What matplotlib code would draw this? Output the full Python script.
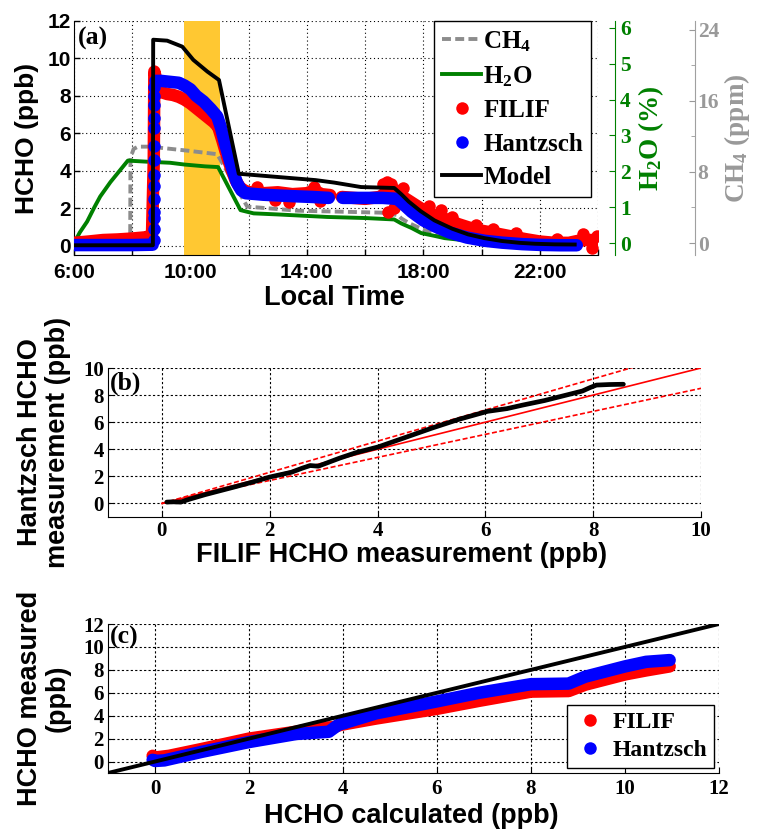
import numpy as np
import matplotlib
matplotlib.use('Agg')
import matplotlib.pyplot as plt
from matplotlib.lines import Line2D
from matplotlib.ticker import MultipleLocator

plt.rcParams['mathtext.fontset'] = 'custom'
plt.rcParams['mathtext.rm'] = 'Liberation Serif:bold'
plt.rcParams['mathtext.it'] = 'Liberation Serif:bold'
plt.rcParams['mathtext.bf'] = 'Liberation Serif:bold'
plt.rcParams['mathtext.default'] = 'rm'

SANS = 'Liberation Sans'
SERIF = 'Liberation Serif'

# ---------------- Panel (a) data (local time in hours) ----------------
shade_start, shade_end = 9.77, 11.0

filif_t = [6.0, 6.5, 7.0, 7.5, 8.0, 8.5, 8.68, 8.74, 8.76, 8.85, 9.0, 9.2, 9.4, 9.6, 9.8,
           10.0, 10.2, 10.4, 10.6, 10.8, 10.95, 11.1, 11.25, 11.4, 11.55, 11.7, 11.85,
           12.0, 12.5, 13.0, 13.5, 14.0, 14.25, 14.5, 14.8, np.nan,
           15.2, 15.6, 16.0, 16.5, 16.8, 17.0, 17.2, 17.5, 17.8, 18.0, 18.4, 18.8,
           19.2, 19.6, 20.0, 20.5, 21.0, 21.5, 22.0, 22.5, 23.0, 23.3, 23.6, 23.9, 24.0]
filif_v = [0.15, 0.22, 0.3, 0.33, 0.38, 0.45, 0.6, 4.5, 9.3, 8.7, 8.2, 8.1, 8.05, 7.95, 7.8,
           7.6, 7.35, 7.1, 6.85, 6.6, 6.35, 5.6, 4.8, 4.1, 3.5, 3.1, 2.95,
           2.85, 2.8, 2.85, 2.75, 2.8, 2.95, 2.75, 2.7, np.nan,
           2.6, 2.55, 2.5, 2.6, 2.9, 3.0, 2.7, 2.4, 2.1, 1.9, 1.6, 1.4,
           1.15, 0.95, 0.8, 0.65, 0.5, 0.35, 0.22, 0.15, 0.15, 0.25, 0.3, 0.3, 0.2]
filif_out_t = [12.3, 12.9, 13.4, 14.25, 14.45, 16.6, 16.75, 16.9, 16.8, 17.0, 17.3,
               18.2, 18.6, 19.0, 19.8, 20.4, 21.2, 22.6, 23.5, 23.8, 23.95]
filif_out_v = [3.15, 2.45, 2.35, 3.15, 2.4, 3.3, 3.4, 3.3, 1.8, 2.0, 3.1,
               2.1, 1.9, 1.55, 1.1, 0.9, 0.65, 0.35, 0.6, -0.1, 0.5]

hantz_t = [6.0, 7.0, 8.0, 8.7, np.nan, 8.8, 9.0, 9.3, 9.6, 9.8, 10.0, 10.2, 10.45, 10.7,
           10.92, 11.05, 11.2, 11.38, 11.5, 11.6, 11.75, 11.9, 12.5, 13.0, 13.7, 14.2,
           14.75, np.nan, 15.23, 16.0, 16.6, 17.1, 17.25, 17.6, 18.0, 18.4, 18.9, 19.5,
           20.1, 20.7, 21.4, 22.0, 22.7, 23.27]
hantz_v = [0.03, 0.03, 0.03, 0.05, np.nan, 8.8, 8.8, 8.75, 8.7, 8.55, 8.35, 8.0, 7.7, 7.3,
           6.9, 6.3, 5.4, 4.4, 3.8, 3.35, 2.95, 2.8, 2.72, 2.68, 2.63, 2.6,
           2.55, np.nan, 2.55, 2.55, 2.55, 2.5, 2.3, 1.8, 1.35, 1.03, 0.7, 0.43,
           0.26, 0.16, 0.08, 0.04, 0.02, 0.02]
hantz_jump_t = [8.75] * 14
hantz_jump_v = [0.3, 0.9, 1.5, 1.8, 2.5, 3.2, 3.8, 4.6, 5.3, 6.3, 6.8, 7.5, 8.0, 8.5]

model_t = [6.0, 8.71, 8.72, 9.2, 9.72, 10.1, 10.58, 10.98, 11.66, 14.3, 14.93, 15.86,
           17.0, 17.24, 17.5, 17.9, 18.38, 19.0, 19.54, 20.1, 20.69, 21.3, 21.84,
           22.5, 23.2]
model_v = [0.02, 0.02, 11.0, 10.95, 10.63, 9.92, 9.3, 8.85, 3.84, 3.5, 3.37, 3.13,
           3.08, 2.75, 2.35, 1.85, 1.35, 0.9, 0.6, 0.4, 0.25, 0.15, 0.1, 0.07, 0.06]

h2o_t = [6.0, 6.2, 6.45, 6.7, 6.9, 7.25, 7.55, 7.85, 8.5, 9.3, 9.8, 10.5, 10.95, 11.72,
         12.17, 13.0, 14.7, 16.0, 17.0, 17.24, 17.6, 17.93, 18.4, 18.73, 19.3, 20.0,
         21.0, 22.0, 23.2]
h2o_v = [0.0, 0.3, 0.6, 1.0, 1.3, 1.7, 2.0, 2.3, 2.27, 2.24, 2.19, 2.14, 2.12, 0.92,
         0.83, 0.8, 0.73, 0.7, 0.66, 0.55, 0.42, 0.28, 0.2, 0.14, 0.09, 0.06,
         0.03, 0.02, 0.01]

ch4_t = [6.0, 7.93, 7.94, 8.05, 8.2, 8.6, 9.9, 10.92, 11.95, 13.68, 16.55, 17.13,
         17.24, 17.5, 18.0, 18.5, 19.0, 20.0, 21.0, 22.0, 23.2]
ch4_v = [0.0, 0.0, 9.6, 10.6, 10.85, 10.85, 10.4, 10.0, 4.1, 3.64, 3.42, 3.15,
         2.78, 2.25, 1.5, 1.0, 0.65, 0.3, 0.15, 0.08, 0.05]

time_ticks = [6, 8, 10, 12, 14, 16, 18, 20, 22, 24]
time_labels = ['6:00', '', '10:00', '', '14:00', '', '18:00', '', '22:00', '']

# ---------------- Panel (b) data ----------------
b_filif = [0.09, 0.2, 0.35, 0.5, 0.8, 1.33, 1.7, 2.0, 2.4, 2.6, 2.75, 2.9, 3.0, 3.3,
           3.6, 4.01, 4.5, 5.0, 5.5, 6.04, 6.4, 6.69, 7.1, 7.5, 7.8, 7.94, 8.06, 8.3, 8.56]
b_hantz = [0.1, 0.12, 0.1, 0.3, 0.65, 1.2, 1.6, 1.95, 2.3, 2.6, 2.8, 2.75, 2.9, 3.35,
           3.75, 4.17, 4.85, 5.55, 6.2, 6.8, 7.0, 7.26, 7.6, 8.0, 8.3, 8.55, 8.74, 8.78, 8.8]
ref_x = [0, 10]
ref_one = [0, 10]
ref_upper = [0, 11.5]
ref_lower = [0, 8.5]

# ---------------- Panel (c) data ----------------
c_x_filif = [-0.05, 0.0, 0.3, 1.0, 2.0, 3.0, 3.4, 3.8, 3.95, 4.7, 6.0, 6.9, 8.0, 8.8,
             9.15, 10.0, 10.45, 10.95]
c_y_filif = [0.5, 0.35, 0.5, 1.1, 2.0, 2.6, 2.9, 3.0, 3.2, 3.75, 4.6, 5.3, 6.1, 6.15,
             6.7, 7.6, 7.95, 8.3]
c_x_hantz = [-0.05, 0.0, 0.2, 1.0, 2.0, 3.0, 3.7, 3.9, 4.7, 6.0, 6.9, 8.0, 8.8, 9.15,
             10.0, 10.45, 10.95]
c_y_hantz = [0.15, 0.05, 0.1, 0.85, 1.7, 2.4, 2.6, 3.2, 4.2, 5.25, 6.0, 6.75, 6.8, 7.4,
             8.3, 8.7, 8.85]
c_line = [-1, 12]

RED, BLUE, GREEN, GRAY, YELLOW = '#FF0000', '#0000FF', '#008000', '#8C8C8C', '#FFC832'

W, H = 759, 830
fig = plt.figure(figsize=(W / 100, H / 100), dpi=100)


def rect(l, t, r, b):
    return [l / W, 1 - b / H, (r - l) / W, (b - t) / H]


def style_ticklabels(ax, family, size, which='both'):
    labels = []
    if which in ('both', 'x'):
        labels += ax.get_xticklabels()
    if which in ('both', 'y'):
        labels += ax.get_yticklabels()
    for lb in labels:
        lb.set_fontfamily(family)
        lb.set_fontweight('bold')
        lb.set_fontsize(size)


grid_kw = dict(color='black', linestyle=(0, (1, 2.5)), linewidth=0.8)

# ================= Panel (a) =================
posA = rect(74, 21, 598, 255)
axA = fig.add_axes(posA)
axA.set_zorder(0)
axA.set_xlim(6, 24)
axA.set_ylim(-0.5, 12)
axA.set_xticks(time_ticks)
axA.set_xticklabels(time_labels)
axA.set_yticks(range(0, 13, 2))
axA.set_axisbelow(True)
axA.grid(True, **grid_kw)
axA.axvspan(shade_start, shade_end, color=YELLOW, lw=0, zorder=1)
for s in ('top', 'right'):
    axA.spines[s].set_visible(False)
axA.tick_params(direction='in', length=4, width=1)
axA.tick_params(axis='x', pad=6)
axA.tick_params(axis='y', pad=2)
style_ticklabels(axA, SANS, 15)
axA.set_ylabel('HCHO (ppb)', fontfamily=SANS, fontweight='bold', fontsize=19)
axA.yaxis.set_label_coords(-0.066, 0.5)
axA.set_xlabel('Local Time', fontfamily=SANS, fontweight='bold', fontsize=19.5)
axA.xaxis.set_label_coords(0.497, -0.13)

# CH4 axis
axM = axA.twinx()
axM.set_zorder(1)
axM.patch.set_visible(False)
for s in ('top', 'left', 'bottom'):
    axM.spines[s].set_visible(False)
axM.spines['right'].set_position(('outward', 69.8))
axM.spines['right'].set_color('#A0A0A0')
axM.set_ylim(-1.35, 25.0)
axM.set_yticks([0, 8, 16, 24])
axM.yaxis.set_minor_locator(MultipleLocator(4))
axM.tick_params(axis='y', which='both', direction='in', colors='#999999', pad=2)
axM.tick_params(axis='y', which='major', length=4)
axM.tick_params(axis='y', which='minor', length=3)
style_ticklabels(axM, SERIF, 15.5, 'y')
axM.plot(ch4_t, ch4_v, color=GRAY, lw=2.8, dashes=(2.3, 1.1))
axM.set_ylabel('CH$_4$ (ppm)', fontfamily=SERIF, fontweight='bold', fontsize=19.5,
               color='#999999')
axM.yaxis.set_label_coords(1.2366, 0.5)

# H2O axis
axH = axA.twinx()
axH.set_zorder(2)
axH.patch.set_visible(False)
for s in ('top', 'left', 'bottom'):
    axH.spines[s].set_visible(False)
axH.spines['right'].set_position(('outward', 12.24))
axH.spines['right'].set_color(GREEN)
axH.set_ylim(-0.33, 6.19)
axH.set_yticks(range(0, 7))
axH.tick_params(axis='y', direction='in', length=4, colors=GREEN, pad=3.6)
style_ticklabels(axH, SERIF, 15.5, 'y')
axH.plot(h2o_t, h2o_v, color=GREEN, lw=2.8)
axH.set_ylabel('H$_2$O (%)', fontfamily=SERIF, fontweight='bold', fontsize=19.5, color=GREEN)
axH.yaxis.set_label_coords(1.0725, 0.5)

# HCHO overlay
axT = fig.add_axes(posA, sharex=axA, sharey=axA, label='hcho_top')
axT.set_zorder(3)
axT.patch.set_visible(False)
axT.axis('off')
axT.plot(filif_t, filif_v, color=RED, lw=9, solid_capstyle='round', solid_joinstyle='round')
axT.plot(filif_out_t, filif_out_v, 'o', color=RED, ms=9, mec='none')
axT.plot(hantz_t, hantz_v, color=BLUE, lw=9, solid_capstyle='round', solid_joinstyle='round')
axT.plot(hantz_jump_t, hantz_jump_v, 'o', color=BLUE, ms=9, mec='none')
axT.plot(model_t, model_v, color='black', lw=2.8)
axT.text(0.008, 0.975, '(a)', transform=axT.transAxes, ha='left', va='top',
         fontfamily=SERIF, fontweight='bold', fontsize=18.5)

legA_handles = [
    Line2D([], [], color=GRAY, lw=2.8, dashes=(2.3, 1.1)),
    Line2D([], [], color=GREEN, lw=2.8),
    Line2D([], [], color=RED, marker='o', ls='none', ms=9, mec='none'),
    Line2D([], [], color=BLUE, marker='o', ls='none', ms=9, mec='none'),
    Line2D([], [], color='black', lw=2.8),
]
legA_labels = ['CH$_4$', 'H$_2$O', 'FILIF', 'Hantzsch', 'Model']
legA = axT.legend(legA_handles, legA_labels, loc='upper right', bbox_to_anchor=(0.987, 1.0),
                  borderaxespad=0, frameon=True, fancybox=False, framealpha=1,
                  edgecolor='black', handlelength=1.55, handletextpad=0.1,
                  labelspacing=0.42, borderpad=0.32,
                  prop={'family': SERIF, 'weight': 'bold', 'size': 18})
legA.get_frame().set_linewidth(1.0)

# ================= Panel (b) =================
axB = fig.add_axes(rect(108, 368, 701, 517))
axB.set_xlim(-1, 10)
axB.set_ylim(-1, 10)
axB.set_xticks(range(0, 11, 2))
axB.set_yticks(range(0, 11, 2))
axB.set_axisbelow(True)
axB.grid(True, color='black', linestyle=(0, (2, 2)), linewidth=0.8)
for s in ('top', 'right'):
    axB.spines[s].set_visible(False)
axB.tick_params(direction='in', length=4)
axB.tick_params(axis='x', pad=3)
axB.tick_params(axis='y', pad=3)
style_ticklabels(axB, SERIF, 15)
axB.plot(ref_x, ref_upper, color=RED, lw=1.2, dashes=(3, 1.5))
axB.plot(ref_x, ref_lower, color=RED, lw=1.2, dashes=(3, 1.5))
axB.plot(ref_x, ref_one, color=RED, lw=1.2)
axB.plot(b_filif, b_hantz, color='black', lw=3.4, solid_capstyle='round')
axB.text(0.003, 0.975, '(b)', transform=axB.transAxes, ha='left', va='top',
         fontfamily=SERIF, fontweight='bold', fontsize=18.5)
axB.set_xlabel('FILIF HCHO measurement (ppb)', fontfamily=SANS, fontweight='bold', fontsize=19.5)
axB.xaxis.set_label_coords(0.495, -0.168)
axB.set_ylabel('Hantzsch HCHO\nmeasurement (ppb)', fontfamily=SANS, fontweight='bold',
               fontsize=19.5, linespacing=1.1)
axB.yaxis.set_label_coords(-0.0624, 0.5)

# ================= Panel (c) =================
axC = fig.add_axes(rect(108, 624, 719, 773))
axC.set_xlim(-1, 12)
axC.set_ylim(-1, 12)
axC.set_xticks(range(0, 13, 2))
axC.set_yticks(range(0, 13, 2))
axC.set_axisbelow(True)
axC.grid(True, color='black', linestyle=(0, (2, 2)), linewidth=0.8)
for s in ('top', 'right'):
    axC.spines[s].set_visible(False)
axC.tick_params(direction='in', length=4)
axC.tick_params(axis='x', pad=4)
axC.tick_params(axis='y', pad=3)
style_ticklabels(axC, SERIF, 15)
axC.plot(c_x_filif, c_y_filif, color=RED, lw=9, solid_capstyle='round', solid_joinstyle='round')
axC.plot(c_x_hantz, c_y_hantz, color=BLUE, lw=9, solid_capstyle='round', solid_joinstyle='round')
axC.plot(c_line, c_line, color='black', lw=2.8)
axC.text(0.003, 0.985, '(c)', transform=axC.transAxes, ha='left', va='top',
         fontfamily=SERIF, fontweight='bold', fontsize=18.5)
axC.set_xlabel('HCHO calculated (ppb)', fontfamily=SANS, fontweight='bold', fontsize=19.5)
axC.xaxis.set_label_coords(0.497, -0.2)
axC.set_ylabel('HCHO measured\n(ppb)', fontfamily=SANS, fontweight='bold',
               fontsize=19.5, linespacing=1.1)
axC.yaxis.set_label_coords(-0.0606, 0.5)
legC_handles = [
    Line2D([], [], color=RED, marker='o', ls='none', ms=9, mec='none'),
    Line2D([], [], color=BLUE, marker='o', ls='none', ms=9, mec='none'),
]
legC = axC.legend(legC_handles, ['FILIF', 'Hantzsch'], loc='lower right',
                  bbox_to_anchor=(0.992, 0.034), borderaxespad=0, frameon=True,
                  fancybox=False, framealpha=1, edgecolor='black', handlelength=1.3,
                  handletextpad=0.3, labelspacing=0.25, borderpad=0.3,
                  prop={'family': SERIF, 'weight': 'bold', 'size': 17})
legC.get_frame().set_linewidth(1.0)

fig.savefig('out.png', dpi=100)
